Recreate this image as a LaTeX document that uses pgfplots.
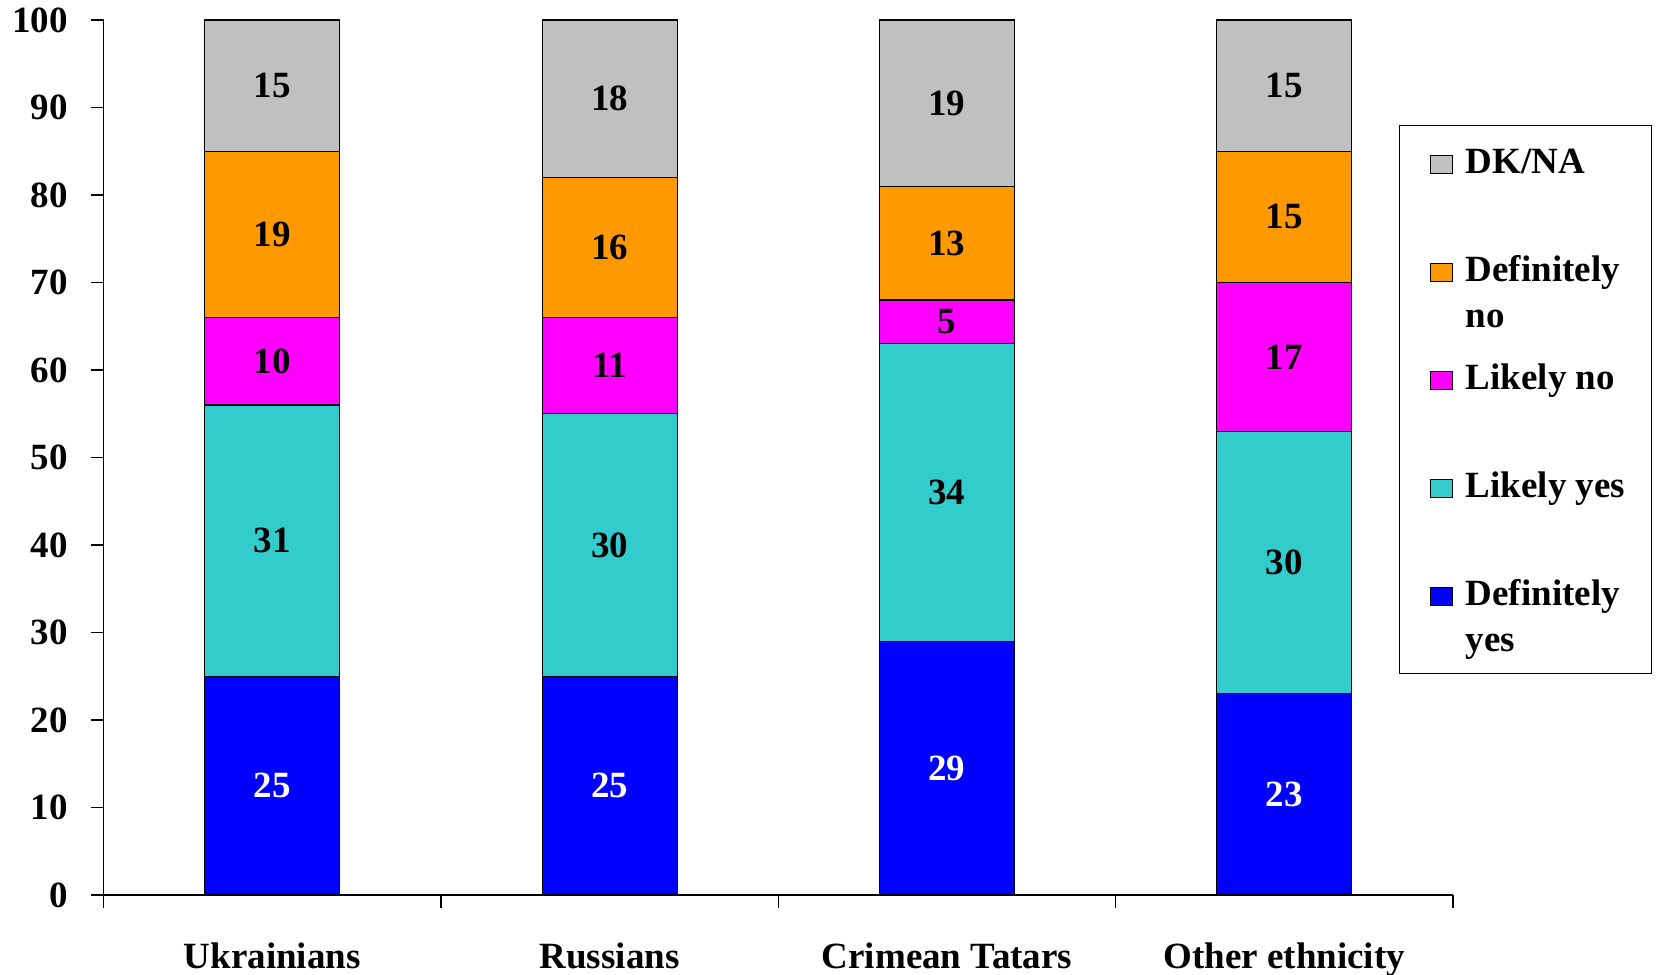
\documentclass[border=0pt]{standalone}
\usepackage{pgfplots}
\pgfplotsset{compat=1.18}
\usepackage{pgfplotstable}
\usepackage{fontspec}
\setmainfont{Liberation Serif}
\definecolor{cdk}{HTML}{C0C0C0}
\definecolor{cdn}{HTML}{FF9900}
\definecolor{cln}{HTML}{FF00FF}
\definecolor{cly}{HTML}{33CCCC}
\definecolor{cdy}{HTML}{0000FF}
\pgfplotstableread{
x dy ly ln dn dk
0 25 31 10 19 15
1 25 30 11 16 18
2 29 34 5 13 19
3 23 30 17 15 15
}\data
\newcommand{\bigf}{\fontsize{18.5}{23}\selectfont\bfseries}
\pgfplotsset{
  sq/.style={legend image code/.code={\path (0pt,0pt); \draw[##1, draw=black, line width=0.6pt] (2pt,0pt) rectangle (13pt,8.7pt);}},
  seg/.style={fill=#1, draw=black, line width=0.6pt, sq},
  lab/.style={point meta=\thisrow{#1}},
}
\begin{document}
\begin{tikzpicture}
\path[use as bounding box] (-51.8pt,-39.5pt) rectangle (776.7pt,447.5pt);
\begin{axis}[
  at={(0pt,0pt)}, anchor=south west,
  scale only axis, width=674.7pt, height=437.5pt,
  ybar stacked, bar width=0.4,
  xmin=-0.5, xmax=3.5, ymin=0, ymax=100,
  enlargelimits=false,
  axis x line=bottom, axis y line=left,
  axis line style={-, line width=0.75pt, black},
  tick align=outside, major tick length=6.5pt,
  tick style={line width=0.75pt, black},
  ytick={0,10,...,100},
  xtick={-0.5,0.5,1.5,2.5,3.5}, xticklabels={},
  extra x ticks={0,1,2,3},
  extra x tick labels={Ukrainians,Russians,Crimean Tatars,Other ethnicity},
  extra x tick style={major tick length=0pt},
  /pgf/number format/assume math mode=true,
  tick label style={font=\bigf},
  yticklabel style={xshift=-7.8pt},
  xticklabel style={text height=13pt, text depth=0pt, yshift=-20pt},
  nodes near coords,
  every node near coord/.append style={font=\bigf, anchor=center},
  reverse legend,
  legend style={at={(0.960,0.880)}, anchor=north west, draw=black, line width=0.6pt,
    inner xsep=13pt, inner ysep=3.5pt, row sep=3.2pt, column sep=6.5pt, font=\bigf,
    cells={anchor=base west},
    nodes={inner sep=0pt, text height=20.3pt, text depth=30.5pt}},
]
\addplot[seg=cdy, lab=dy, every node near coord/.append style={text=white}] table[x=x, y=dy] {\data};
\addlegendentry{\begin{tabular}[t]{@{}l@{}}Definitely\\yes\end{tabular}}
\addplot[seg=cly, lab=ly] table[x=x, y=ly] {\data};
\addlegendentry{Likely yes}
\addplot[seg=cln, lab=ln] table[x=x, y=ln] {\data};
\addlegendentry{Likely no}
\addplot[seg=cdn, lab=dn] table[x=x, y=dn] {\data};
\addlegendentry{\begin{tabular}[t]{@{}l@{}}Definitely\\no\end{tabular}}
\addplot[seg=cdk, lab=dk] table[x=x, y=dk] {\data};
\addlegendentry{DK/NA}
\end{axis}
\end{tikzpicture}
\end{document}
